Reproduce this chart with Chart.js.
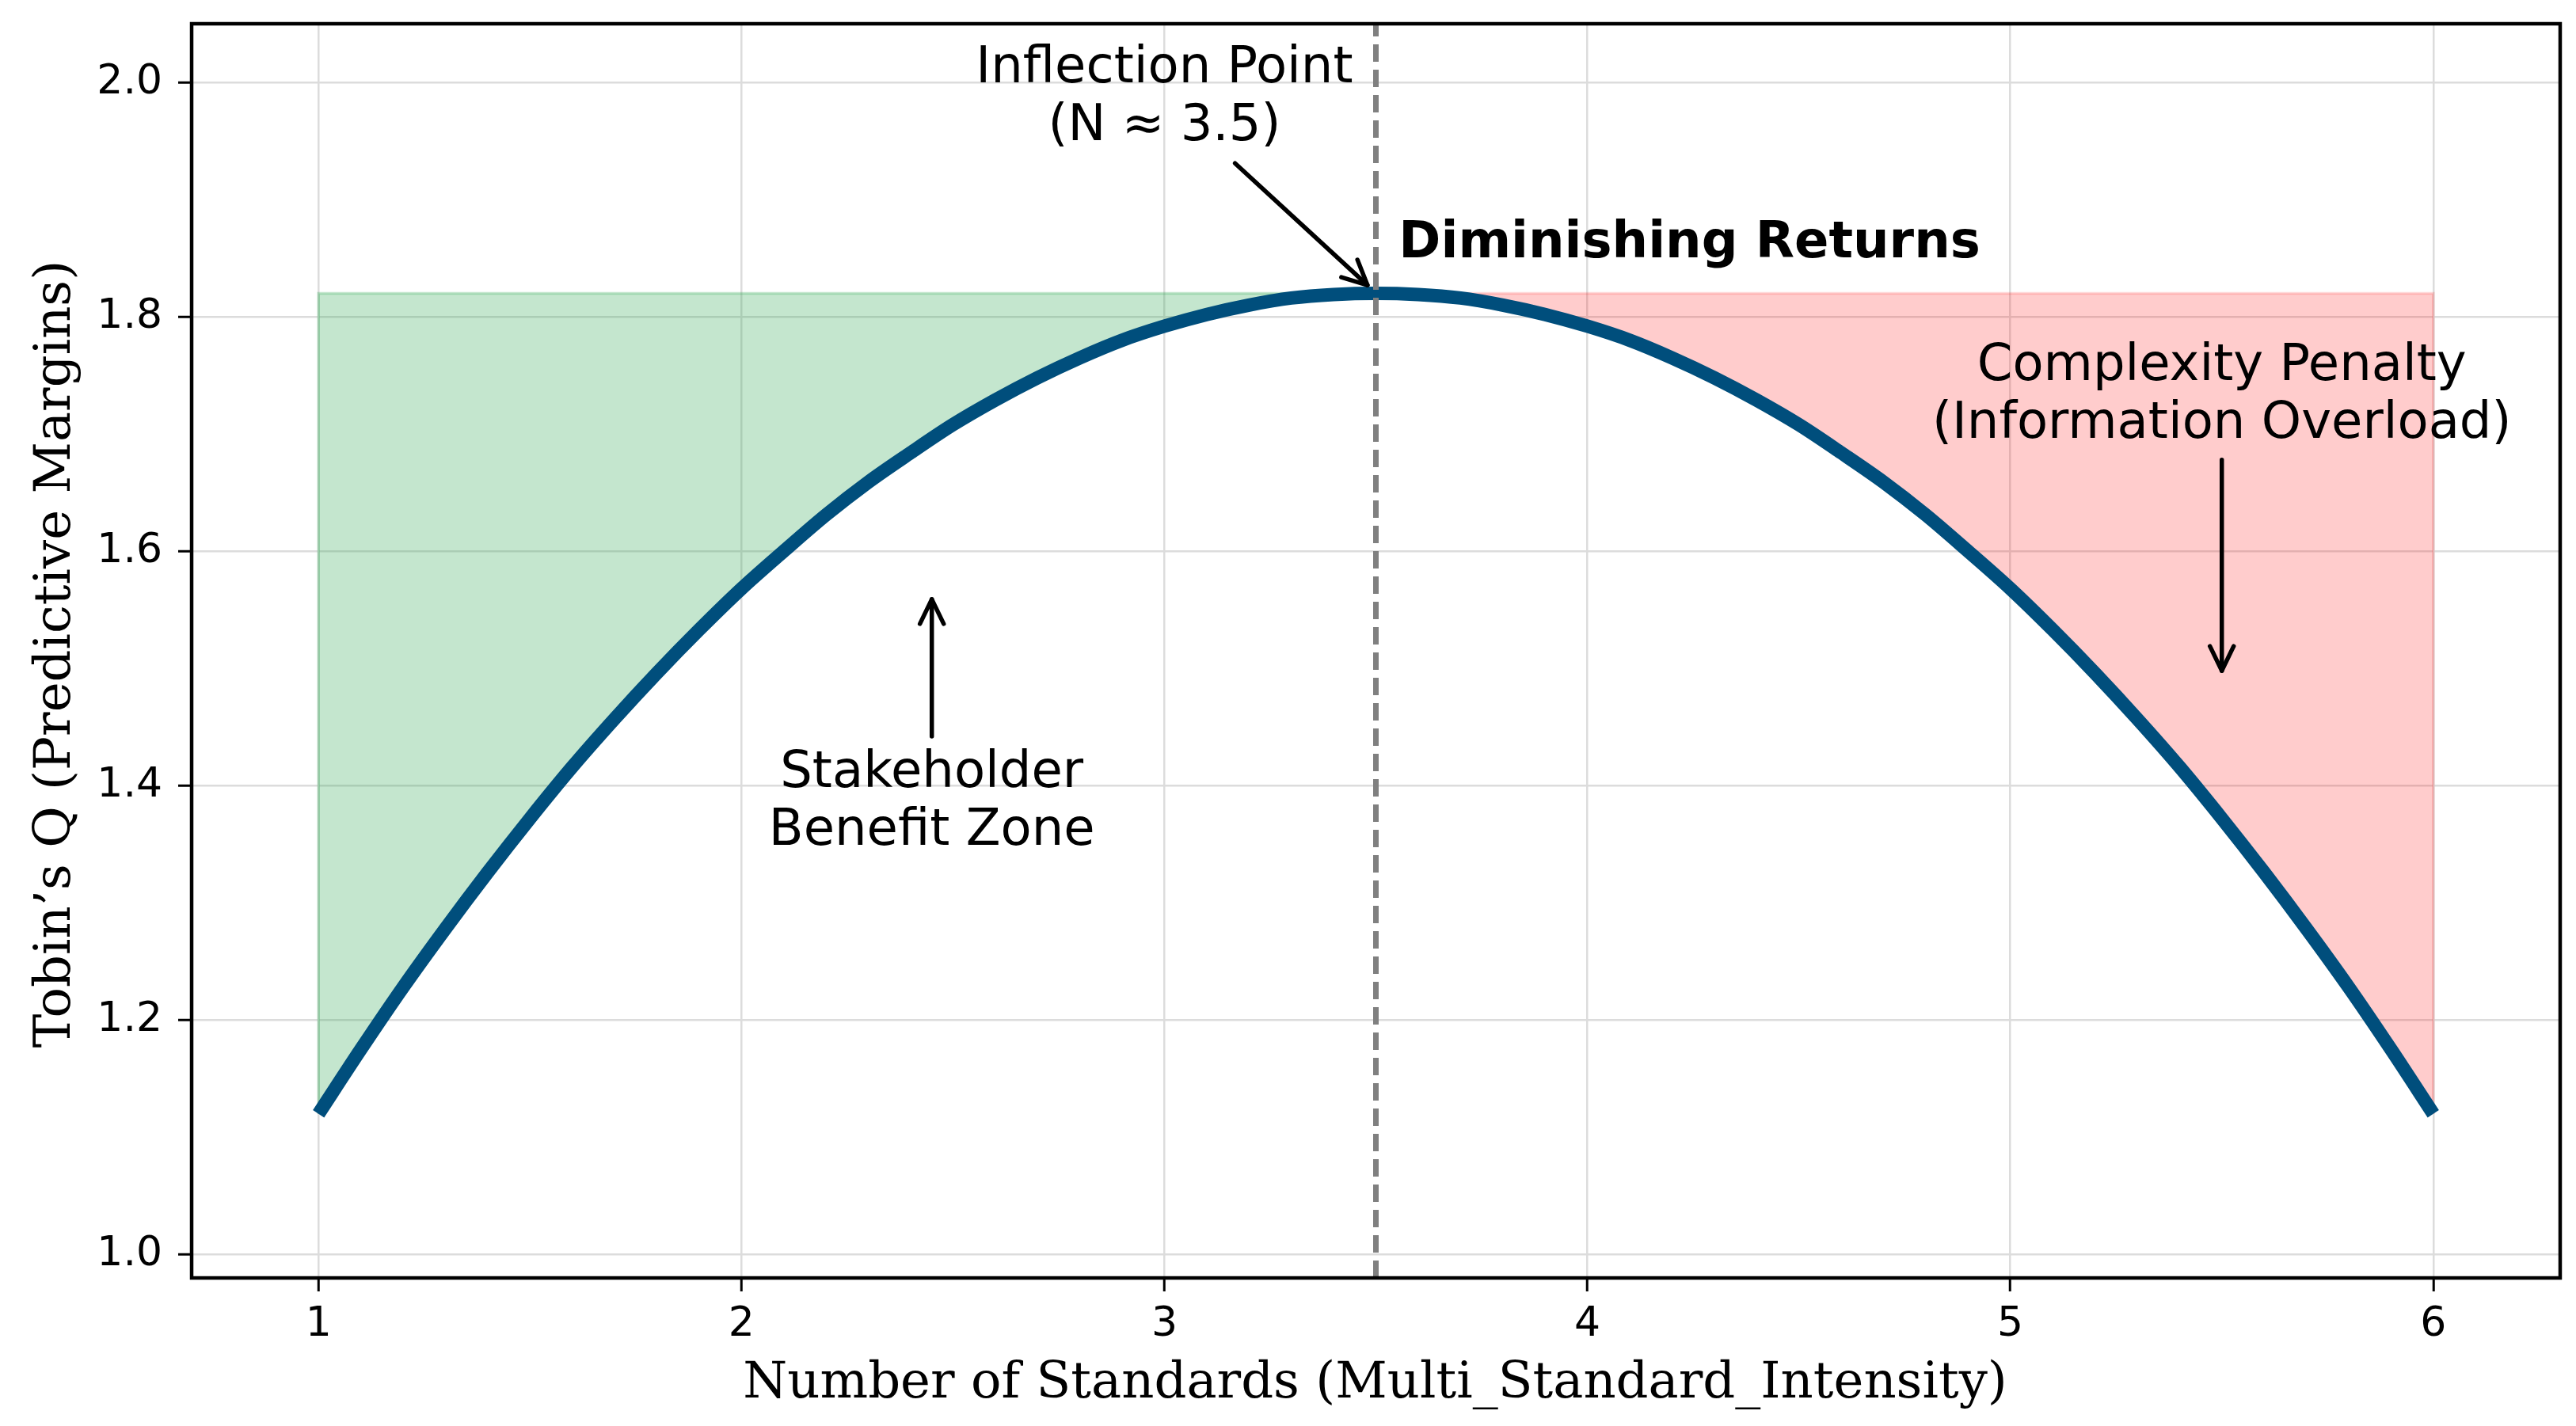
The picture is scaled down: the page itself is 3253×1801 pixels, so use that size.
<!DOCTYPE html>
<html>
<head>
<meta charset="utf-8">
<script src="https://cdn.jsdelivr.net/npm/chart.js@4.4.0/dist/chart.umd.min.js"></script>
<style>
html,body{margin:0;padding:0;background:#ffffff;}
#wrap{width:3253px;height:1801px;position:relative;}
</style>
</head>
<body>
<div id="wrap"><canvas id="c" width="3253" height="1801"></canvas></div>
<script>
// ---- data ----
const standards = [1.0,1.1,1.2,1.3,1.4,1.5,1.6,1.7,1.8,1.9,2.0,2.1,2.2,2.3,2.4,2.5,2.6,2.7,2.8,2.9,3.0,3.1,3.2,3.3,3.4,3.5,
                   3.6,3.7,3.8,3.9,4.0,4.1,4.2,4.3,4.4,4.5,4.6,4.7,4.8,4.9,5.0,5.1,5.2,5.3,5.4,5.5,5.6,5.7,5.8,5.9,6.0];
const tobinsQ = [1.120,1.175,1.228,1.278,1.326,1.372,1.416,1.457,1.496,1.533,1.568,1.600,1.631,1.659,1.684,1.708,1.729,1.748,1.765,1.780,1.792,1.802,1.810,1.816,1.819,1.820,
                 1.819,1.816,1.810,1.802,1.792,1.780,1.765,1.748,1.729,1.708,1.684,1.659,1.631,1.600,1.568,1.533,1.496,1.457,1.416,1.372,1.326,1.278,1.228,1.175,1.120];
const xTickValues = [1,2,3,4,5,6];
const yTickValues = [1.0,1.2,1.4,1.6,1.8,2.0];
const peakStandards = 3.5;
const peakQ = 1.82;
const xTitle = 'Number of Standards (Multi_Standard_Intensity)';
const yTitle = 'Tobin\u2019s Q (Predictive Margins)';
const noteTexts = [
  ['Inflection Point','(N \u2248 3.5)'],
  ['Diminishing Returns'],
  ['Stakeholder','Benefit Zone'],
  ['Complexity Penalty','(Information Overload)']
];

// ---- derived series ----
const curvePts = standards.map((s,i)=>({x:s,y:tobinsQ[i]}));
const greenPts = curvePts.filter(p=>p.x<=peakStandards);
const redPts = curvePts.filter(p=>p.x>=peakStandards);
const firstPt = curvePts[0], lastPt = curvePts[curvePts.length-1];
const greenEdge = [{x:firstPt.x,y:firstPt.y},{x:firstPt.x,y:peakQ},{x:peakStandards,y:peakQ}];
const redEdge = [{x:peakStandards,y:peakQ},{x:lastPt.x,y:peakQ},{x:lastPt.x,y:lastPt.y}];
const vline = [{x:peakStandards,y:0.98},{x:peakStandards,y:2.05}];

// ---- annotation layout (data coordinates) ----
const notes = [
  {lines:noteTexts[0], x:3.0,   y:2.0,    align:'center', bold:false},
  {lines:noteTexts[1], x:3.554, y:1.8505, align:'left',   bold:true},
  {lines:noteTexts[2], x:2.45,  y:1.399,  align:'center', bold:false},
  {lines:noteTexts[3], x:5.5,   y:1.746,  align:'center', bold:false}
];
const arrows = [
  {from:[3.167,1.931], to:[3.48,1.827]},
  {from:[2.45,1.442],  to:[2.45,1.559]},
  {from:[5.5,1.678],   to:[5.5,1.498]}
];

const overlay = {
  id:'overlay',
  afterDraw(chart){
    const ctx = chart.ctx, a = chart.chartArea;
    const xs = chart.scales.x, ys = chart.scales.y;
    ctx.save();
    // frame
    ctx.strokeStyle = '#000'; ctx.lineWidth = 4.5;
    ctx.strokeRect(a.left, a.top, a.right-a.left, a.bottom-a.top);
    // notes
    ctx.fillStyle = '#000';
    notes.forEach(n=>{
      ctx.font = (n.bold?'bold ':'') + '64px "DejaVu Sans"';
      ctx.textAlign = n.align; ctx.textBaseline = 'alphabetic';
      const px = xs.getPixelForValue(n.x), py = ys.getPixelForValue(n.y);
      n.lines.forEach((t,i)=>ctx.fillText(t, px, py + i*73));
    });
    // arrows
    ctx.strokeStyle = '#000'; ctx.lineWidth = 5.5; ctx.lineCap = 'round'; ctx.lineJoin='round';
    arrows.forEach(ar=>{
      const x1 = xs.getPixelForValue(ar.from[0]), y1 = ys.getPixelForValue(ar.from[1]);
      const x2 = xs.getPixelForValue(ar.to[0]), y2 = ys.getPixelForValue(ar.to[1]);
      const ang = Math.atan2(y2-y1, x2-x1);
      ctx.beginPath(); ctx.moveTo(x1,y1); ctx.lineTo(x2,y2); ctx.stroke();
      const hl = 31, hw = 15;
      const bx = x2 - hl*Math.cos(ang), by = y2 - hl*Math.sin(ang);
      ctx.beginPath();
      ctx.moveTo(bx + hw*Math.sin(ang), by - hw*Math.cos(ang));
      ctx.lineTo(x2,y2);
      ctx.lineTo(bx - hw*Math.sin(ang), by + hw*Math.cos(ang));
      ctx.stroke();
    });
    // axis titles
    ctx.font = '64px "DejaVu Serif"';
    ctx.textAlign = 'center'; ctx.textBaseline = 'alphabetic';
    ctx.fillText(xTitle, (a.left+a.right)/2 - 1, 1765);
    ctx.translate(88, (a.top+a.bottom)/2 + 4);
    ctx.rotate(-Math.PI/2);
    ctx.fillText(yTitle, 0, 0);
    ctx.restore();
  }
};

const fixTicks = (vals)=> (scale)=>{ scale.ticks = vals.map(v=>({value:v})); };

new Chart(document.getElementById('c'), {
  type:'line',
  data:{
    datasets:[
      {data:vline, borderColor:'#808080', borderWidth:7, borderDash:[22,10], pointRadius:0, fill:false, order:0},
      {data:curvePts, borderColor:'#004e7c', borderWidth:17, pointRadius:0, fill:false, order:1, cubicInterpolationMode:'monotone'},
      {data:greenEdge, borderColor:'rgba(58,172,92,0.30)', borderWidth:3.5, pointRadius:0, fill:false, order:2},
      {data:redEdge, borderColor:'rgba(255,0,0,0.15)', borderWidth:3.5, pointRadius:0, fill:false, order:2},
      {data:greenPts, borderWidth:0, borderColor:'rgba(0,0,0,0)', backgroundColor:'rgba(58,172,92,0.30)', pointRadius:0, fill:{value:peakQ}, order:3, cubicInterpolationMode:'monotone'},
      {data:redPts, borderWidth:0, borderColor:'rgba(0,0,0,0)', backgroundColor:'rgba(255,0,0,0.20)', pointRadius:0, fill:{value:peakQ}, order:3, cubicInterpolationMode:'monotone'}
    ]
  },
  options:{
    responsive:false, animation:false, devicePixelRatio:1,
    layout:{padding:{left:0, top:30, right:20, bottom:0}},
    plugins:{legend:{display:false}, tooltip:{enabled:false}},
    scales:{
      x:{type:'linear', min:0.7, max:6.3,
         afterBuildTicks: fixTicks(xTickValues),
         afterFit(s){ s.height = 187; s.paddingLeft = 0; s.paddingRight = 0; s.paddingTop = 0; s.paddingBottom = 0; },
         grid:{color:'#dcdcdc', lineWidth:2.5, tickColor:'#000', tickWidth:3, tickLength:17, drawTicks:true},
         border:{display:false},
         ticks:{color:'#000', padding:11, font:{family:'DejaVu Sans', size:52}, maxRotation:0,
                callback:(v)=>String(v)}},
      y:{type:'linear', min:0.98, max:2.05,
         afterBuildTicks: fixTicks(yTickValues),
         afterFit(s){ s.width = 242; s.paddingLeft = 0; s.paddingRight = 0; s.paddingTop = 0; s.paddingBottom = 0; },
         grid:{color:'#dcdcdc', lineWidth:2.5, tickColor:'#000', tickWidth:3, tickLength:17, drawTicks:true},
         border:{display:false},
         ticks:{color:'#000', padding:20, font:{family:'DejaVu Sans', size:52},
                callback:(v)=>Number(v).toFixed(1)}}
    }
  },
  plugins:[overlay]
});
</script>
</body>
</html>
